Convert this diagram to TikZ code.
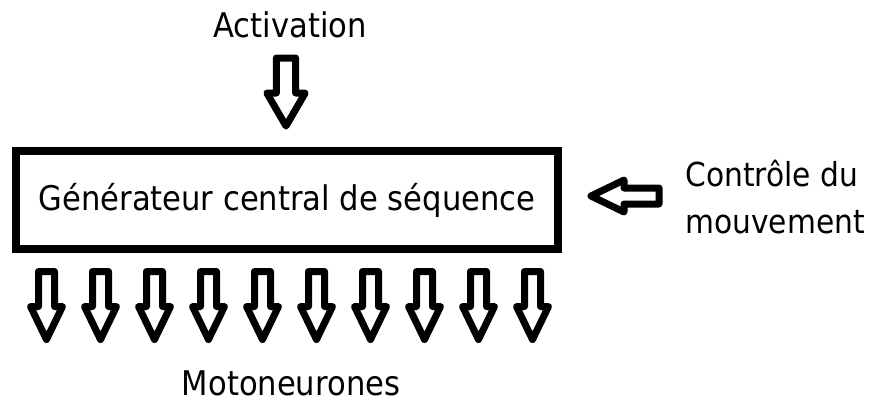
\documentclass[tikz,border=0pt]{standalone}
\usepackage{fontspec}
\setmainfont{DejaVu Sans}[FakeStretch=0.9]
\usetikzlibrary{positioning}

\begin{document}
\begin{tikzpicture}[
  x=0.5pt, y=-0.5pt,
  txt/.style={
    font=\fontsize{17}{23.5}\selectfont,
    inner sep=0pt, text=black
  },
  genbox/.style={
    rectangle, draw=black, line width=4.25pt, fill=white,
    minimum width=271pt, minimum height=49pt,
    inner sep=0pt
  },
  arrline/.style={
    draw=black, line width=3.5pt, fill=white, line join=round
  },
  blockarrow/.pic={
    \draw[arrline] (-8,0) -- (8,0) -- (8,35) -- (16,35) -- (0,68)
      -- (-16,35) -- (-8,35) -- cycle;
  }
]

%% -- cadre de l'image (871 x 402 px) -------------------------------------
\useasboundingbox (0,0) rectangle (871,402);

%% -- générateur central --------------------------------------------------
\node[genbox] (gen) at (287,200) {};
\node[txt] (gentxt) at (gen.center) {Générateur central de séquence};

%% -- activation (haut) -------------------------------------------------
\node[txt] (act) at (290,25) {Activation};
\pic[xscale=1.2] at (286,58) {blockarrow};

%% -- contrôle du mouvement (droite) ---------------------------------------
\node[txt, font=\fontsize{16.5}{23.5}\selectfont, anchor=west, align=left]
  (ctrl) at (685,197) {Contrôle du\\mouvement};
\pic[rotate=-90] at (659,196) {blockarrow};

%% -- sorties vers les motoneurones (bas) ----------------------------------
\foreach \i in {0,...,9}
  \pic at ({46.5+54*\i},271.5) {blockarrow};
\node[txt] (moto) at (291,383) {Motoneurones};

\end{tikzpicture}
\end{document}
